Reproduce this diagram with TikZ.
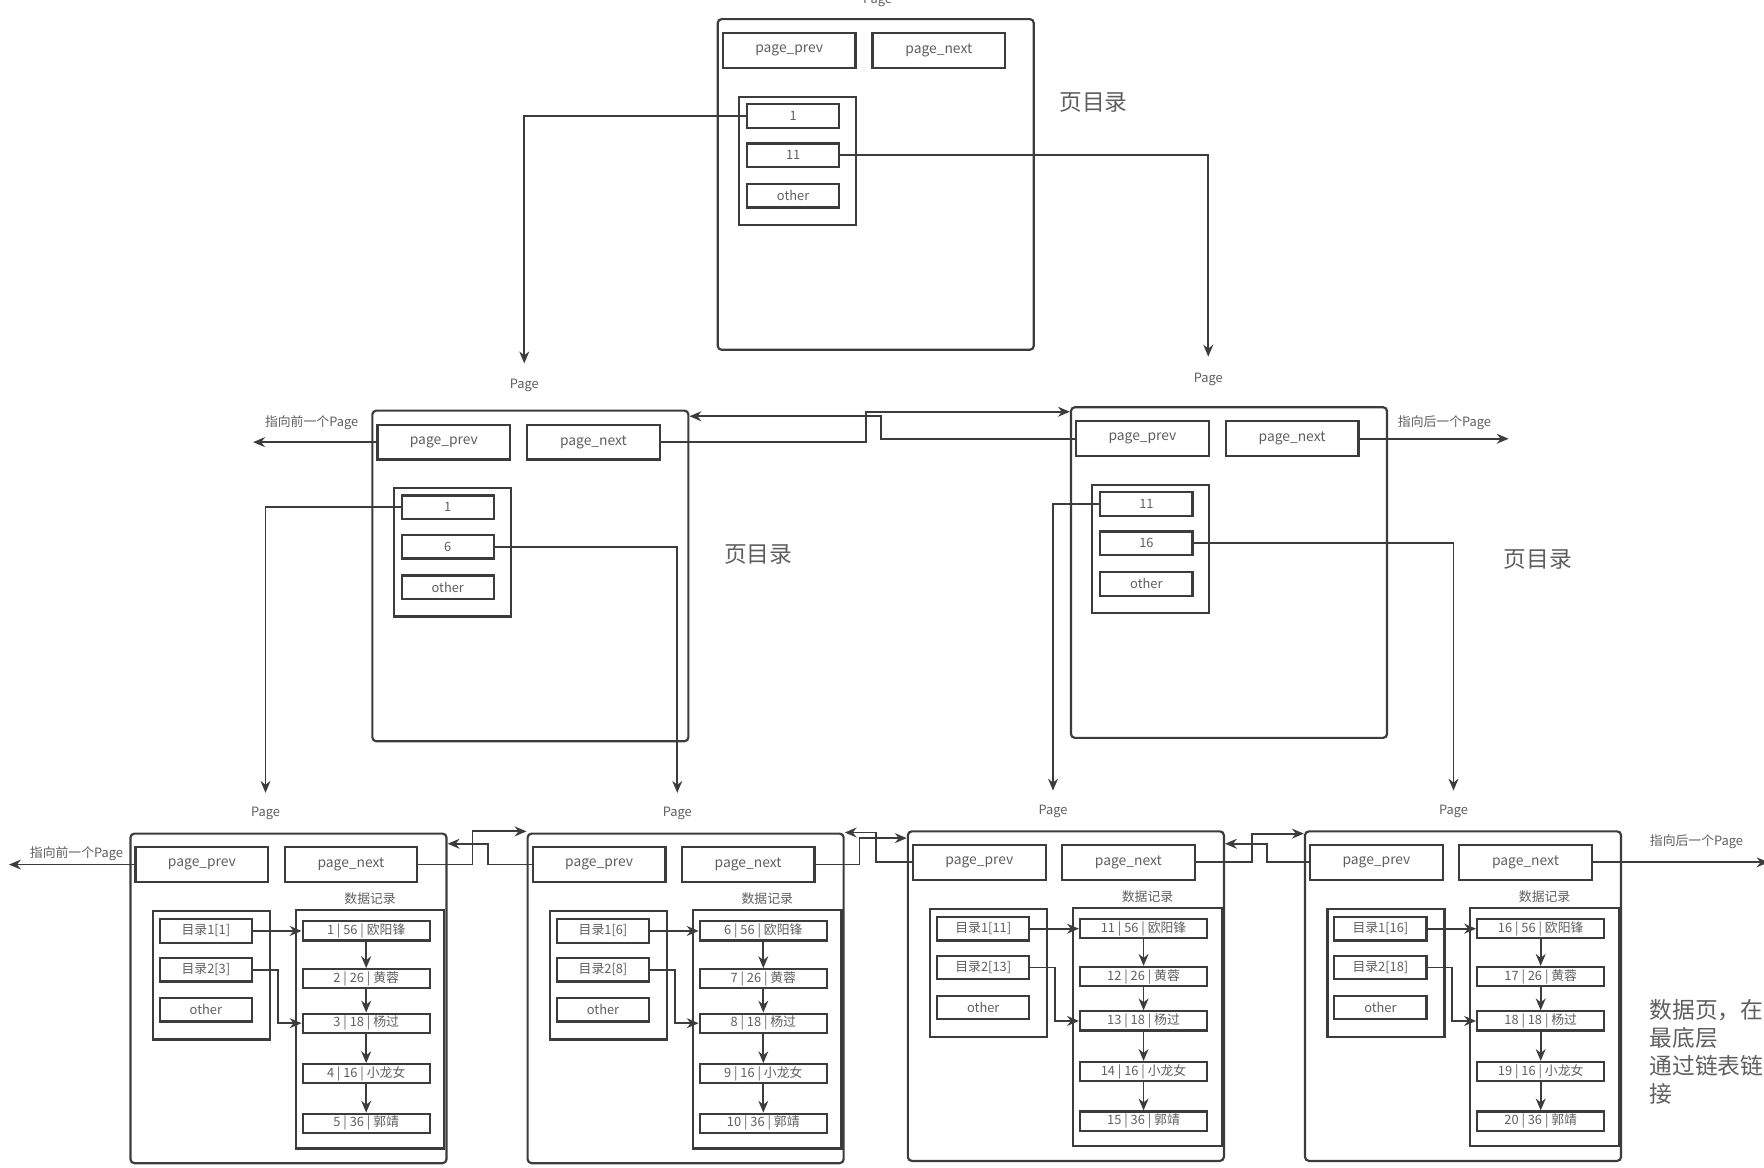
\documentclass[tikz,border=0pt]{standalone}
\usepackage{fontspec}
\setmainfont{Noto Sans CJK SC}
\usetikzlibrary{arrows.meta}

\definecolor{lineC}{RGB}{60,60,60}
\definecolor{textC}{RGB}{95,95,95}

\tikzset{
  pagebox/.style={draw=lineC, line width=1.1pt, rounded corners=2pt, minimum width=5.62cm, inner sep=0pt, anchor=north west},
  ptr/.style={draw=lineC, line width=1.1pt, minimum width=2.36cm, minimum height=0.62cm, inner sep=0pt, text=textC, font=\fontsize{7}{8}\selectfont},
  dirbox/.style={draw=lineC, line width=1.1pt, minimum width=2.08cm, minimum height=2.28cm, inner sep=0pt, anchor=north west},
  entry/.style={draw=lineC, line width=1.1pt, minimum width=1.64cm, minimum height=0.42cm, inner sep=0pt, text=textC, font=\fontsize{6.5}{7}\selectfont},
  recbox/.style={draw=lineC, line width=1.1pt, minimum width=2.64cm, minimum height=4.24cm, inner sep=0pt, anchor=north west},
  rec/.style={draw=lineC, line width=1.1pt, minimum width=2.26cm, minimum height=0.34cm, inner sep=0pt, text=textC, font=\fontsize{6.5}{7}\selectfont},
  lab/.style={text=textC, inner sep=1pt, font=\fontsize{6.5}{7}\selectfont},
  big/.style={text=textC, inner sep=0pt, font=\fontsize{11.5}{14.2}\selectfont},
  link/.style={draw=lineC, line width=0.9pt, -{Stealth[length=6pt,width=5pt]}}
}

\begin{document}
\begin{tikzpicture}[x=0.02cm, y=-0.02cm]
\path[use as bounding box, fill=white] (0,0) rectangle (1568,1038);

% index pages
\foreach \p/\L/\T/\a/\b/\lx/\ly in {top/637/16/1/11/780/0, ml/330/364/1/6/466/343, mr/951/361/11/16/1074/337}{
  \node[pagebox, minimum height=5.88cm] (\p) at (\L,\T) {};
  \node[lab] (\p-lab) at (\lx,\ly) {Page};
  \node[ptr] (\p-prev) at ({\L+64.5},{\T+29}) {page\_prev};
  \node[ptr] (\p-next) at ({\L+197.5},{\T+29}) {page\_next};
  \node[dirbox] (\p-dir) at ({\L+19},{\T+69}) {};
  \node[entry] (\p-e1) at ({\L+68},{\T+87}) {\a};
  \node[entry] (\p-e2) at ({\L+68},{\T+122}) {\b};
  \node[entry] (\p-e3) at ({\L+68},{\T+158}) {other};
}
\node[big] (top-note) at (972,91) {页目录};
\node[big] (ml-note) at (674,493) {页目录};
\node[big] (mr-note) at (1367,497) {页目录};

% data pages
\foreach \p/\L/\T/\s/\lx in {A/115/740/1/236, B/468/740/6/602, C/806/738/11/936, D/1159/738/16/1292}{
  \pgfmathtruncatemacro\sb{\s+2}
  \node[pagebox, minimum height=5.86cm] (\p) at (\L,\T) {};
  \node[lab] (\p-lab) at (\lx,{\T-17}) {Page};
  \node[ptr] (\p-prev) at ({\L+64.5},{\T+28.5}) {page\_prev};
  \node[ptr] (\p-next) at ({\L+197},{\T+28.5}) {page\_next};
  \node[dirbox] (\p-dir) at ({\L+20},{\T+69}) {};
  \node[entry] (\p-e1) at ({\L+68},{\T+87.5}) {目录1[\s]};
  \node[entry] (\p-e2) at ({\L+68},{\T+122}) {目录2[\sb]};
  \node[entry] (\p-e3) at ({\L+68},{\T+157.5}) {other};
  \node[lab] (\p-reclab) at ({\L+214},{\T+59}) {数据记录};
  \node[recbox] (\p-recs) at ({\L+147},{\T+68}) {};
  \foreach \k/\age/\nm/\dy in {0/56/欧阳锋/87.5, 1/26/黄蓉/130, 2/18/杨过/169.5, 3/16/小龙女/214.5, 4/36/郭靖/258.5}{
    \pgfmathtruncatemacro\rid{\s+\k}
    \node[rec] (\p-r\k) at ({\L+210.5},{\T+\dy}) {\rid{} | \age{} | \nm};
  }
  \draw[link] (\p-e1.east) -- (\p-r0.west);
  \draw[link] (\p-e2.east) -- ++(22,0) |- (\p-r2.west);
  \foreach \k [count=\kk] in {0,...,3}
    \draw[link] (\p-r\k.south) -- (\p-r\kk.north);
}
\node[big, anchor=north west, align=left] (bottom-note) at (1466,888) {数据页，在\\最底层\\通过链表链\\接};

% index entries point down to child pages
\draw[link] (top-e1.west) -| ([yshift=7pt]ml-lab.north);
\draw[link] (top-e2.east) -| ([yshift=7pt]mr-lab.north);
\draw[link] (ml-e1.west) -| ([yshift=6pt]A-lab.north);
\draw[link] (ml-e2.east) -| ([yshift=6pt]B-lab.north);
\draw[link] (mr-e1.west) -| ([yshift=6pt]C-lab.north);
\draw[link] (mr-e2.east) -| ([yshift=6pt]D-lab.north);

% sibling pages, double linked
\draw[link] (ml-next.east) -| (770,366) -- (mr.north west |- 770,366);
\draw[link] (mr-prev.west) -| (783,370) -- (ml.north east |- 783,370);
\draw[link] (A-next.east) -| (420,739) -- (B.north west |- 420,739);
\draw[link] (B-prev.west) -| (434,750) -- (A.north east |- 434,750);
\draw[link] (B-next.east) -| (764,745) -- (C.north west |- 764,745);
\draw[link] (C-prev.west) -| (779,740) -- (B.north east |- 779,740);
\draw[link] (C-next.east) -| (1113,741) -- (D.north west |- 1113,741);
\draw[link] (D-prev.west) -| (1126,750) -- (C.north east |- 1126,750);

% pointers leaving the picture
\coordinate (ml-out) at (225,392);
\coordinate (mr-out) at (1341,390);
\coordinate (A-out) at (8,768);
\coordinate (D-out) at (1572,766);
\node[lab] (ml-outlab) at (277,376) {指向前一个Page};
\node[lab] (mr-outlab) at (1284,376) {指向后一个Page};
\node[lab] (A-outlab) at (68,759) {指向前一个Page};
\node[lab] (D-outlab) at (1508,748) {指向后一个Page};
\draw[link] (ml-prev.west) -- (ml-prev.west -| ml-out);
\draw[link] (mr-next.east) -- (mr-next.east -| mr-out);
\draw[link] (A-prev.west) -- (A-prev.west -| A-out);
\draw[link] (D-next.east) -- (D-next.east -| D-out);
\end{tikzpicture}
\end{document}
